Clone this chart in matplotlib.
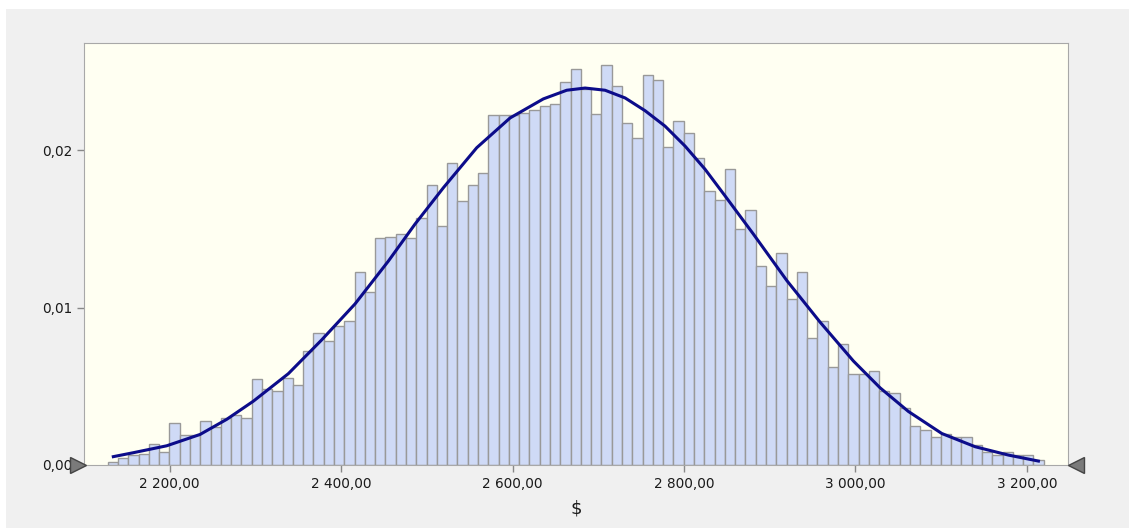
import matplotlib.pyplot as plt
import numpy as np
from matplotlib.ticker import FuncFormatter

# histogram: 91 bins of width 12 starting at 2127.7
bin_start = 2127.7
bin_width = 12.0
density = [
    0.00021, 0.00042, 0.00063, 0.00068, 0.00131, 0.00084, 0.00264, 0.00190, 0.00190, 0.00280,
    0.00243, 0.00297, 0.00319, 0.00297, 0.00546, 0.00485, 0.00468, 0.00555, 0.00506, 0.00722,
    0.00837, 0.00789, 0.00884, 0.00916, 0.01228, 0.01097, 0.01441, 0.01447, 0.01464, 0.01443,
    0.01568, 0.01778, 0.01519, 0.01920, 0.01677, 0.01778, 0.01857, 0.02224, 0.02224, 0.02224,
    0.02238, 0.02257, 0.02278, 0.02295, 0.02430, 0.02515, 0.02390, 0.02226, 0.02538, 0.02407,
    0.02171, 0.02076, 0.02475, 0.02443, 0.02019, 0.02186, 0.02108, 0.01949, 0.01738, 0.01686,
    0.01880, 0.01496, 0.01620, 0.01262, 0.01137, 0.01346, 0.01055, 0.01228, 0.00806, 0.00913,
    0.00624, 0.00766, 0.00576, 0.00576, 0.00595, 0.00470, 0.00460, 0.00359, 0.00249, 0.00224,
    0.00179, 0.00194, 0.00177, 0.00177, 0.00129, 0.00084, 0.00061, 0.00082, 0.00061, 0.00061,
    0.00030,
]

# fitted density curve
curve_x = [2134.2, 2157.5, 2196.5, 2235.4, 2266.5, 2297.5, 2338.4, 2377.4, 2416.2, 2455.1,
           2486.2, 2519.3, 2558.2, 2597.1, 2635.9, 2663.2, 2684.6, 2707.9, 2731.3, 2754.6,
           2777.9, 2801.3, 2824.6, 2847.9, 2881.0, 2920.0, 2958.8, 2997.7, 3028.8, 3061.8,
           3100.8, 3139.7, 3178.5, 3213.5]
curve_y = [0.00053, 0.00078, 0.00122, 0.00194, 0.00290, 0.00405, 0.00580, 0.00795, 0.01023, 0.01295,
           0.01530, 0.01761, 0.02015, 0.02204, 0.02325, 0.02380, 0.02394, 0.02380, 0.02331, 0.02250,
           0.02152, 0.02025, 0.01878, 0.01709, 0.01466, 0.01171, 0.00907, 0.00660, 0.00490, 0.00340,
           0.00200, 0.00116, 0.00063, 0.00025]

x_ticks = [2200, 2400, 2600, 2800, 3000, 3200]
y_ticks = [0.0, 0.01, 0.02]

fig = plt.figure(figsize=(11.29, 5.28), dpi=100, facecolor='white')
# grey panel behind the chart
panel = plt.Rectangle((6 / 1129, 0), 1, 1 - 9 / 528, transform=fig.transFigure,
                      facecolor='#f0f0f0', edgecolor='none', zorder=-10)
fig.add_artist(panel)
ax = fig.add_axes([84 / 1129, 63 / 528, 984 / 1129, 422 / 528])
ax.set_zorder(1)
ax.set_facecolor('#fffff2')

edges = bin_start + bin_width * np.arange(len(density))
ax.bar(edges, density, width=bin_width, align='edge', color='#cfdaf6',
       edgecolor='#999999', linewidth=1.0, zorder=2)
ax.plot(curve_x, curve_y, color='#0c0c8a', linewidth=2.2, zorder=3,
        solid_joinstyle='round')

ax.set_xlim(2100, 3248)
ax.set_ylim(0, 0.0268)
ax.set_xticks(x_ticks)
ax.set_yticks(y_ticks)
ax.xaxis.set_major_formatter(FuncFormatter(
    lambda v, p: f'{v:,.2f}'.replace(',', ' ').replace('.', ',')))
ax.yaxis.set_major_formatter(FuncFormatter(lambda v, p: f'{v:.2f}'.replace('.', ',')))
ax.tick_params(colors='#888888', labelcolor='#1a1a1a', labelsize=9.8, length=5, width=1)
for s in ax.spines.values():
    s.set_color('#a8a8a8')
ax.set_xlabel('$', fontsize=13, color='#1a1a1a', labelpad=6)

# slider handles at both ends of the x axis
ax.plot([-0.006], [0], marker='>', markersize=11, color='#7a7a7a', markeredgecolor='#444444',
        transform=ax.transAxes, clip_on=False, zorder=5)
ax.plot([1.008], [0], marker='<', markersize=11, color='#7a7a7a', markeredgecolor='#444444',
        transform=ax.transAxes, clip_on=False, zorder=5)

fig.savefig('out.png', dpi=100, facecolor=fig.get_facecolor())
